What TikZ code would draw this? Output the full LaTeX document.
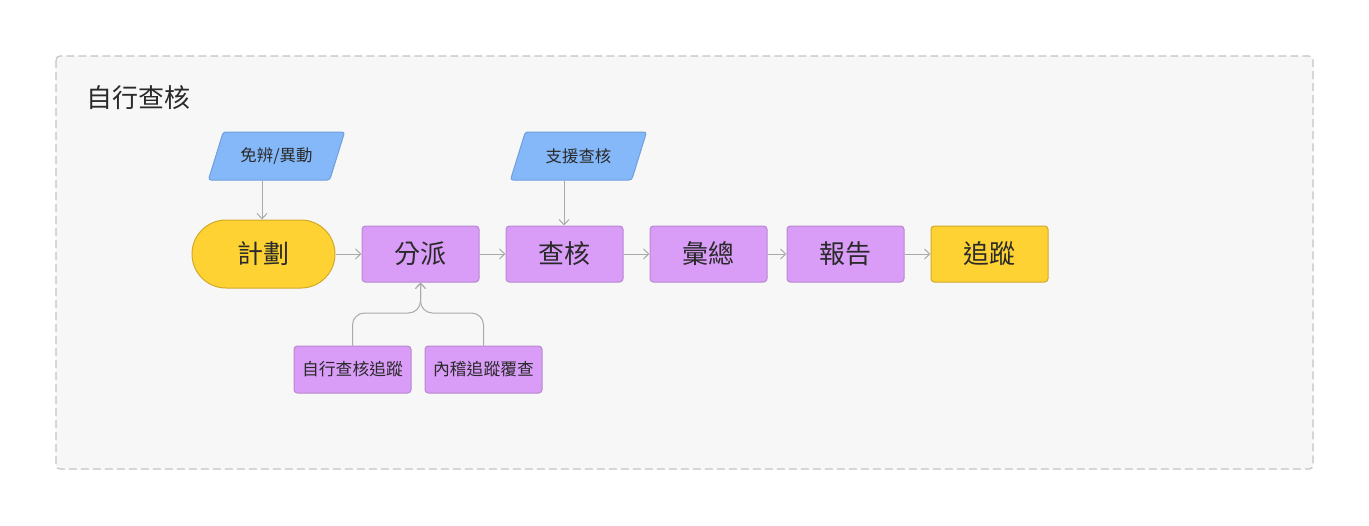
\documentclass[tikz,border=0pt]{standalone}
\usepackage{fontspec}
\setmainfont{Noto Sans CJK TC}
\usetikzlibrary{arrows.meta,shapes.geometric}
\definecolor{bgfill}{HTML}{F7F7F7}
\definecolor{bgline}{HTML}{C4C4C4}
\definecolor{purfill}{HTML}{D99CF7}
\definecolor{purline}{HTML}{B889CF}
\definecolor{yelfill}{HTML}{FDD232}
\definecolor{yelline}{HTML}{D2A92A}
\definecolor{blufill}{HTML}{85B8F8}
\definecolor{bluline}{HTML}{6F9FDD}
\definecolor{conn}{HTML}{AAAAAA}
\definecolor{txt}{HTML}{2A2A2A}
\tikzset{
  procbox/.style={draw=purline, fill=purfill, rounded corners=2.5pt, line width=0.75pt,
    minimum width=87.75pt, minimum height=42pt, inner sep=0pt, text=txt, font=\fontsize{19.5}{22}\selectfont},
  smallbox/.style={procbox, minimum height=35.25pt, font=\fontsize{12.6}{14}\selectfont},
  termbox/.style={draw=yelline, fill=yelfill, rounded corners=25.5pt, line width=0.75pt,
    minimum width=107.25pt, minimum height=51pt, inner sep=0pt, text=txt, font=\fontsize{19.5}{22}\selectfont},
  yelbox/.style={procbox, draw=yelline, fill=yelfill},
  databox/.style={trapezium, trapezium left angle=59, trapezium right angle=121, trapezium stretches=true,
    draw=bluline, fill=blufill, rounded corners=2pt, line width=0.75pt,
    minimum width=102.75pt, minimum height=36pt, inner sep=0pt, text=txt, font=\fontsize{12.3}{14}\selectfont},
  conline/.style={draw=conn, line width=0.75pt, -{Straight Barb[length=4pt,width=7.5pt]}},
}
\begin{document}
\begin{tikzpicture}[x=0.75pt,y=-0.75pt]
\useasboundingbox (0,0) rectangle (1369,525);
\fill[white] (0,0) rectangle (1369,525);
\draw[bgline, fill=bgfill, line width=0.9pt, dash pattern=on 6pt off 3pt, rounded corners=3pt] (56,56) rectangle (1313,469);
\node[anchor=west, text=txt, font=\fontsize{19.5}{22}\selectfont, inner sep=0pt] (title) at (86,98) {自行查核};

\node[databox] (d1) at (276.5,156) {免辨/異動};
\node[databox] (d2) at (578.5,156) {支援查核};

\node[termbox] (plan) at (263.5,254) {計劃};
\node[procbox] (fen) at (420.5,254) {分派};
\node[procbox] (cha) at (564.5,254) {查核};
\node[procbox] (hui) at (708.5,254) {彙總};
\node[procbox] (bao) at (845.5,254) {報告};
\node[yelbox] (zhui) at (989.5,254) {追蹤};

\node[smallbox] (s1) at (352.5,369.5) {自行查核追蹤};
\node[smallbox] (s2) at (483.5,369.5) {內稽追蹤覆查};

\coordinate (d1x) at (262,180);
\coordinate (d2x) at (564,180);
\draw[conline] (d1x) -- (d1x |- plan.north);
\draw[conline] (d2x) -- (d2x |- cha.north);

\draw[conline] (plan.east) -- (fen.west);
\draw[conline] (fen.east) -- (cha.west);
\draw[conline] (cha.east) -- (hui.west);
\draw[conline] (hui.east) -- (bao.west);
\draw[conline] (bao.east) -- (zhui.west);

\coordinate (mj) at (420.5,313);
\draw[conline, rounded corners=9pt] (s1.north) |- (mj) -- (fen.south);
\draw[conline, rounded corners=9pt] (s2.north) |- (mj) -- (fen.south);
\end{tikzpicture}
\end{document}
